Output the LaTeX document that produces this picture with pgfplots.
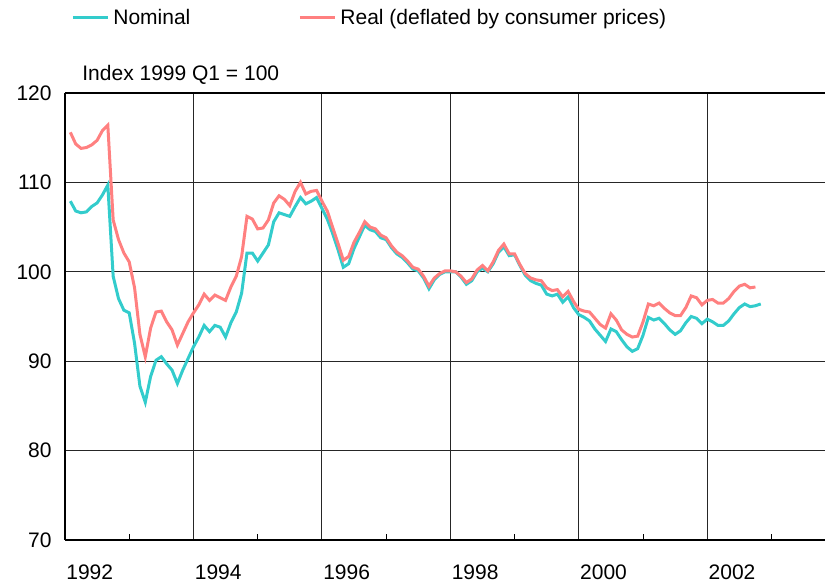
\documentclass[border=0pt]{standalone}
\usepackage{fontspec}
\setmainfont{Liberation Sans}
\usepackage{pgfplots}
\usepackage{pgfplotstable}
\pgfplotsset{compat=1.18}

\definecolor{nomcol}{RGB}{51,204,204}
\definecolor{realcol}{RGB}{255,128,128}

% month index k = (year-1992)*12 + month, Jan 1992 = 1
\pgfplotstableread{
k nominal real
1 107.9 115.6
2 106.8 114.3
3 106.6 113.8
4 106.7 113.9
5 107.3 114.2
6 107.7 114.7
7 108.6 115.8
8 109.7 116.4
9 99.5 105.8
10 97.0 103.6
11 95.7 102.1
12 95.4 101.1
13 92.0 98.2
14 87.2 93.0
15 85.4 90.5
16 88.3 93.7
17 90.1 95.5
18 90.5 95.6
19 89.7 94.4
20 89.0 93.5
21 87.5 91.8
22 89.0 93.1
23 90.3 94.4
24 91.6 95.4
25 92.7 96.3
26 94.0 97.5
27 93.3 96.8
28 94.0 97.4
29 93.8 97.1
30 92.7 96.8
31 94.3 98.3
32 95.5 99.5
33 97.6 101.7
34 102.1 106.2
35 102.1 105.9
36 101.2 104.8
37 102.1 104.9
38 103.0 105.8
39 105.6 107.7
40 106.6 108.5
41 106.4 108.1
42 106.2 107.4
43 107.3 109.0
44 108.3 110.0
45 107.6 108.7
46 107.9 109.0
47 108.3 109.1
48 107.1 107.9
49 105.9 106.8
50 104.3 105.0
51 102.5 103.2
52 100.5 101.3
53 100.9 101.7
54 102.6 103.3
55 103.9 104.4
56 105.2 105.6
57 104.7 105.0
58 104.5 104.8
59 103.8 104.1
60 103.6 103.8
61 102.7 102.9
62 102.0 102.2
63 101.6 101.8
64 101.0 101.2
65 100.3 100.5
66 100.1 100.3
67 99.3 99.5
68 98.1 98.4
69 99.1 99.3
70 99.7 99.8
71 100.0 100.1
72 100.0 100.1
73 100.0 100.0
74 99.4 99.5
75 98.6 98.8
76 99.0 99.2
77 100.0 100.2
78 100.4 100.7
79 100.0 100.1
80 100.9 101.1
81 102.2 102.4
82 102.8 103.1
83 101.8 102.0
84 101.9 102.0
85 100.7 100.8
86 99.6 99.8
87 99.0 99.3
88 98.7 99.1
89 98.5 99.0
90 97.5 98.2
91 97.3 97.9
92 97.5 98.0
93 96.6 97.2
94 97.2 97.8
95 96.0 96.7
96 95.2 95.8
97 94.9 95.6
98 94.5 95.5
99 93.6 94.8
100 92.9 94.1
101 92.2 93.7
102 93.6 95.3
103 93.3 94.6
104 92.4 93.5
105 91.6 93.0
106 91.1 92.7
107 91.4 92.8
108 92.9 94.4
109 94.9 96.4
110 94.6 96.2
111 94.8 96.5
112 94.2 95.9
113 93.5 95.4
114 93.0 95.1
115 93.4 95.1
116 94.3 96.0
117 95.0 97.3
118 94.8 97.1
119 94.2 96.3
120 94.7 96.8
121 94.4 96.9
122 94.0 96.5
123 94.0 96.5
124 94.5 97.0
125 95.3 97.8
126 96.0 98.4
127 96.4 98.6
128 96.1 98.2
129 96.2 98.3
130 96.4 nan
}\fxdata

\begin{document}
\begin{tikzpicture}
\begin{axis}[
  width=380pt, height=223.5pt, scale only axis,
  xmin=0, xmax=142, ymin=70, ymax=120,
  axis x line*=box, axis y line*=left,
  axis line style={black, line width=0.75pt},
  xtick={0,24,48,72,96,120},
  xticklabels={1992,1994,1996,1998,2000,2002},
  minor xtick={12,36,60,84,108,132},
  ytick={70,80,...,120},
  xtick pos=lower, ytick pos=left,
  tick align=inside,
  major tick length=0pt, minor tick length=3pt,
  minor tick style={black, line width=0.5pt},
  grid=major,
  major grid style={black!85, line width=0.5pt},
  /pgf/number format/assume math mode=true,
  ticklabel style={font=\fontsize{10.5}{12.6}\selectfont},
  xticklabel style={anchor=north west, inner sep=0pt, yshift=-12pt, xshift=0.5pt},
  yticklabel style={anchor=east, inner sep=0pt, xshift=-6.5pt},
  legend columns=2,
  legend cell align=left,
  legend style={draw=none, fill=none, font=\fontsize{10.5}{12.6}\selectfont,
    at={([xshift=0pt,yshift=37.5pt]rel axis cs:0,1)}, anchor=west,
    /tikz/every even column/.append style={column sep=52pt}},
  legend image code/.code={\draw[#1] (0pt,0pt) -- (17.5pt,0pt);},
]
\addplot[nomcol, line width=1.5pt] table[x=k, y=nominal] {\fxdata};
\addlegendentry{Nominal}
\addplot[realcol, line width=1.5pt] table[x=k, y=real] {\fxdata};
\addlegendentry{Real (deflated by consumer prices)}
\coordinate (bl) at (rel axis cs:0,0);
\coordinate (tr) at (rel axis cs:1,1);
\coordinate (tl) at (rel axis cs:0,1);
\end{axis}
\node[anchor=west, inner sep=0pt, font=\fontsize{10.5}{12.6}\selectfont]
  at ([xshift=8.5pt, yshift=9pt]tl) {Index 1999 Q1 = 100};
\pgfresetboundingbox
\path[use as bounding box] ([xshift=-32.5pt, yshift=-22pt]bl) rectangle ([yshift=46.5pt]tr);
\end{tikzpicture}
\end{document}
